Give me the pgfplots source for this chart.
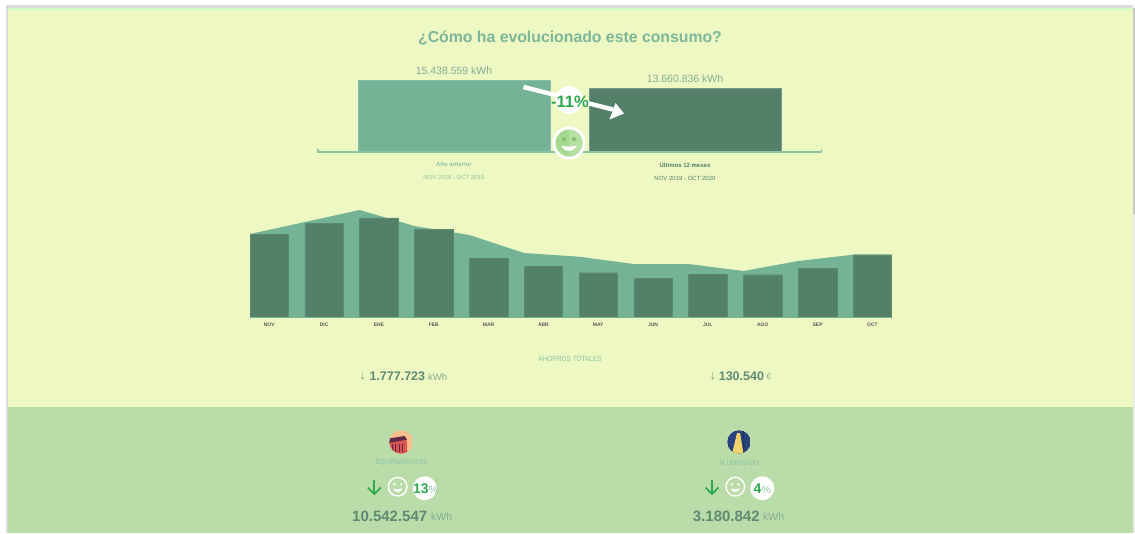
\documentclass[border=0pt]{standalone}
\usepackage{pgfplots}
\pgfplotsset{compat=1.18}
\usepackage{fontspec}
\setmainfont{Liberation Sans}
\definecolor{bgA}{HTML}{EEF8C2}
\definecolor{bgB}{HTML}{BADCA8}
\definecolor{barL}{HTML}{75B397}
\definecolor{barD}{HTML}{54806A}
\definecolor{titleC}{HTML}{7CB79A}
\definecolor{txtL}{HTML}{86AE96}
\definecolor{txtD}{HTML}{5F8A74}
\definecolor{grn}{HTML}{2DA84A}
\definecolor{lblA}{HTML}{8CC3A4}
\definecolor{lblB}{HTML}{8FC3A8}
\definecolor{smA}{HTML}{A5D98F}
\definecolor{smB}{HTML}{B7E0A3}
\definecolor{smC}{HTML}{86C274}
\definecolor{icoA}{HTML}{F9BE8B}
\definecolor{icoB}{HTML}{D9534F}
\definecolor{icoC}{HTML}{5E2A4C}
\definecolor{icoD}{HTML}{27427D}
\definecolor{icoE}{HTML}{F3D26E}
\definecolor{icoF}{HTML}{1D2E55}
\newcommand{\T}[5]{\node[inner sep=0pt,anchor=#1,text=#4] at (#2) {\scalebox{#3}[1]{#5}};}
\newcommand{\fs}[1]{\fontsize{#1}{#1}\selectfont}
\newcommand{\mysmile}[3]{%
  \draw[white,line width=1.4pt] (#1,#2) circle (#3);
  \fill[white] (#1-0.36*#3,#2-0.25*#3) circle (0.14*#3);
  \fill[white] (#1+0.36*#3,#2-0.25*#3) circle (0.14*#3);
  \fill[white] (#1-0.5*#3,#2+0.18*#3) .. controls (#1-0.35*#3,#2+0.72*#3) and (#1+0.35*#3,#2+0.72*#3) .. (#1+0.5*#3,#2+0.18*#3) .. controls (#1+0.2*#3,#2+0.34*#3) and (#1-0.2*#3,#2+0.34*#3) .. cycle;
}
\begin{document}
\begin{tikzpicture}[x=1pt,y=-1pt]
\fill[white] (0,0) rectangle (1135,533);
\fill[black!14] (6,5) rectangle (8,533);
\fill[black!14] (6,5) rectangle (1133,8);
\fill[black!8] (1132,8) rectangle (1135,533);
\fill[bgA] (8,8) rectangle (1132.5,406.5);
\fill[bgB] (8,406.5) rectangle (1132.5,533);
\fill[bgA!60!green!40!white] (8,8) rectangle (1132.5,9.5);
\fill[black!22] (1133,8) rectangle (1135,214);

\T{center}{570,38}{1.0}{titleC}{\fs{15.8}\bfseries ¿Cómo ha evolucionado este consumo?}

% top comparison
\begin{axis}[at={(318pt,-151pt)},anchor=south west,scale only axis,width=504pt,height=71pt,
  xmin=-0.5887,xmax=1.5931,ymin=0,ymax=15438559,clip=false,
  axis x line*=bottom,axis y line=none,
  axis line style={draw=none},
  xtick={0,1},major tick length=0pt,
  xticklabels={{\textcolor{lblA}{\bfseries Año anterior}\\[7pt]\textcolor{lblA}{NOV 2018 - OCT 2019}},
               {\textcolor{barD}{\bfseries Últimos 12 meses}\\[7pt]\textcolor{barD}{NOV 2019 - OCT 2020}}},
  xticklabel style={align=center,font=\fs{6},yshift=-7.5pt}]
\addplot[ybar,bar width=192pt,bar shift=0pt,fill=barL,draw=barL!85!white] coordinates {(0,15438559)};
\addplot[ybar,bar width=192pt,bar shift=0pt,fill=barD,draw=barD!80!white] coordinates {(1,13660836)};
\node[above,text=txtL,font=\fs{10.5},inner sep=0pt,yshift=5.5pt] at (axis cs:0,15438559) {15.438.559 kWh};
\node[above,text=txtL,font=\fs{10.5},inner sep=0pt,yshift=5.5pt] at (axis cs:1,13660836) {13.660.836 kWh};
\end{axis}
\draw[lblA,line width=2pt] (318,151.8) -- (821.5,151.8);
\draw[lblA,line width=1.2pt] (318,148.5) -- (318,152.5);
\draw[lblA,line width=1.2pt] (821.5,148.5) -- (821.5,152.5);

% arrow and percentage
\draw[white,line width=4.4pt] (523.5,87) -- (613,109.5);
\fill[white] (624,113.5) -- (615.5,103) -- (609.5,119.5) -- cycle;
\fill[white] (569,100) circle (14);
\T{center}{570,102}{1}{grn}{\fs{16.5}\bfseries -11\%}

% big smiley
\fill[white] (569,143) circle (16.5);
\fill[smA] (569,143) circle (13.5);
\begin{scope}
\clip (569,125) rectangle (590,160);
\fill[smB] (569,143) circle (13.5);
\end{scope}
\fill[smC] (564,139) circle (2.1);
\fill[smC] (574,139) circle (2.1);
\fill[white] (561.5,145.5) .. controls (563,152.5) and (575,152.5) .. (576.5,145.5) .. controls (572,147) and (566,147) .. cycle;

% monthly chart
\begin{axis}[at={(250pt,-317pt)},anchor=south west,scale only axis,width=641pt,height=107pt,
  xmin=0,xmax=11.69,ymin=0,ymax=1943000,clip=false,
  axis x line*=bottom,axis y line=none,
  axis line style={draw=none},
  xtick={0.351,1.351,2.351,3.351,4.351,5.351,6.351,7.351,8.351,9.351,10.351,11.351},
  xticklabels={NOV,DIC,ENE,FEB,MAR,ABR,MAY,JUN,JUL,AGO,SEP,OCT},
  major tick length=0pt,
  xticklabel style={font=\fs{5}\bfseries,text=black!65,yshift=-2.5pt}]
\addplot[fill=barL,draw=none] coordinates {(0,1507000)(1,1725000)(2,1943000)(3,1652000)(4,1489000)(5,1162000)(6,1095000)(7,962000)(8,962000)(9,835000)(10,1017000)(11,1131000)(11.69,1131000)} \closedcycle;
\addplot[ybar,bar width=38.5pt,bar shift=19.25pt,fill=barD,draw=barD!80!barL,line width=0.4pt] coordinates {(0,1507000)(1,1707000)(2,1798000)(3,1598000)(4,1059000)(5,926000)(6,804000)(7,703000)(8,775000)(9,768000)(10,884000)(11,1131000)};
\end{axis}
\draw[barL,line width=0.9pt] (250,317) -- (891,317);

% totals
\T{center}{570,358.5}{0.86}{lblA}{\fs{7.5}AHORROS TOTALES}
\T{center}{363,376}{1}{txtD}{\fs{9}$\downarrow$}
\T{west}{369.3,376.5}{1}{txtD}{\fs{12.5}\bfseries 1.777.723}
\T{west}{428,377}{1}{txtL}{\fs{9.5}kWh}
\T{center}{713,376}{1}{txtD}{\fs{9}$\downarrow$}
\T{west}{718.6,376.5}{1}{txtD}{\fs{12.5}\bfseries 130.540}
\T{west}{766.5,377}{0.9}{txtL}{\fs{8.5}€}

% icon 1
\begin{scope}
\clip (401,442) circle (11.7);
\fill[icoA] (389,430) rectangle (413,454);
\fill[icoB] (389,442) -- (406.5,439) -- (407.5,454) -- (389,454) -- cycle;
\fill[icoC] (389,438.5) -- (404.5,436) -- (407,439.5) -- (389,443) -- cycle;
\foreach \wx in {392,395.5,399,402.5} {\draw[icoC,line width=0.5pt] (\wx,443.5) -- (\wx,452);}
\end{scope}
% icon 2
\begin{scope}
\clip (739,442) circle (11.7);
\fill[icoD] (727,430) rectangle (751,454);
\fill[icoE] (737,433) -- (740,433) -- (743.5,454) -- (732,454) -- cycle;
\draw[icoF,line width=0.8pt] (743.5,431) -- (744,454);
\end{scope}

\T{center}{401.7,462.5}{0.84}{lblB}{\fs{7.5}EQUIPAMIENTOS}
\T{center}{739,462.5}{0.85}{lblB}{\fs{7.5}ALUMBRADO}

% down arrows
\foreach \x in {374.3,712} {
  \draw[grn,line width=1.7pt] (\x,480) -- (\x,493);
  \draw[grn,line width=1.7pt] (\x-6.5,487.5) -- (\x,494) -- (\x+6.5,487.5);
}
\mysmile{397.7}{486.7}{9.3}
\mysmile{735.3}{486.7}{9.3}
\fill[white] (424.7,488.3) circle (12);
\fill[white] (762.3,488.3) circle (12);
\node[inner sep=0pt,text=grn] at (425.5,488.8) {\fs{14}\bfseries 13\textcolor{lblA}{\mdseries\fs{10.5}\%}};
\node[inner sep=0pt,text=grn] at (762.3,488.8) {\fs{14}\bfseries 4\textcolor{lblA}{\mdseries\fs{10.5}\%}};

\T{west}{352,516.5}{1}{txtD}{\fs{15}\bfseries 10.542.547}
\T{west}{431,517}{1}{txtL}{\fs{10.5}kWh}
\T{west}{692.7,516.5}{1}{txtD}{\fs{15}\bfseries 3.180.842}
\T{west}{763,517}{1}{txtL}{\fs{10.5}kWh}
\path[use as bounding box] (0,0) rectangle (1135,533);
\end{tikzpicture}
\end{document}
